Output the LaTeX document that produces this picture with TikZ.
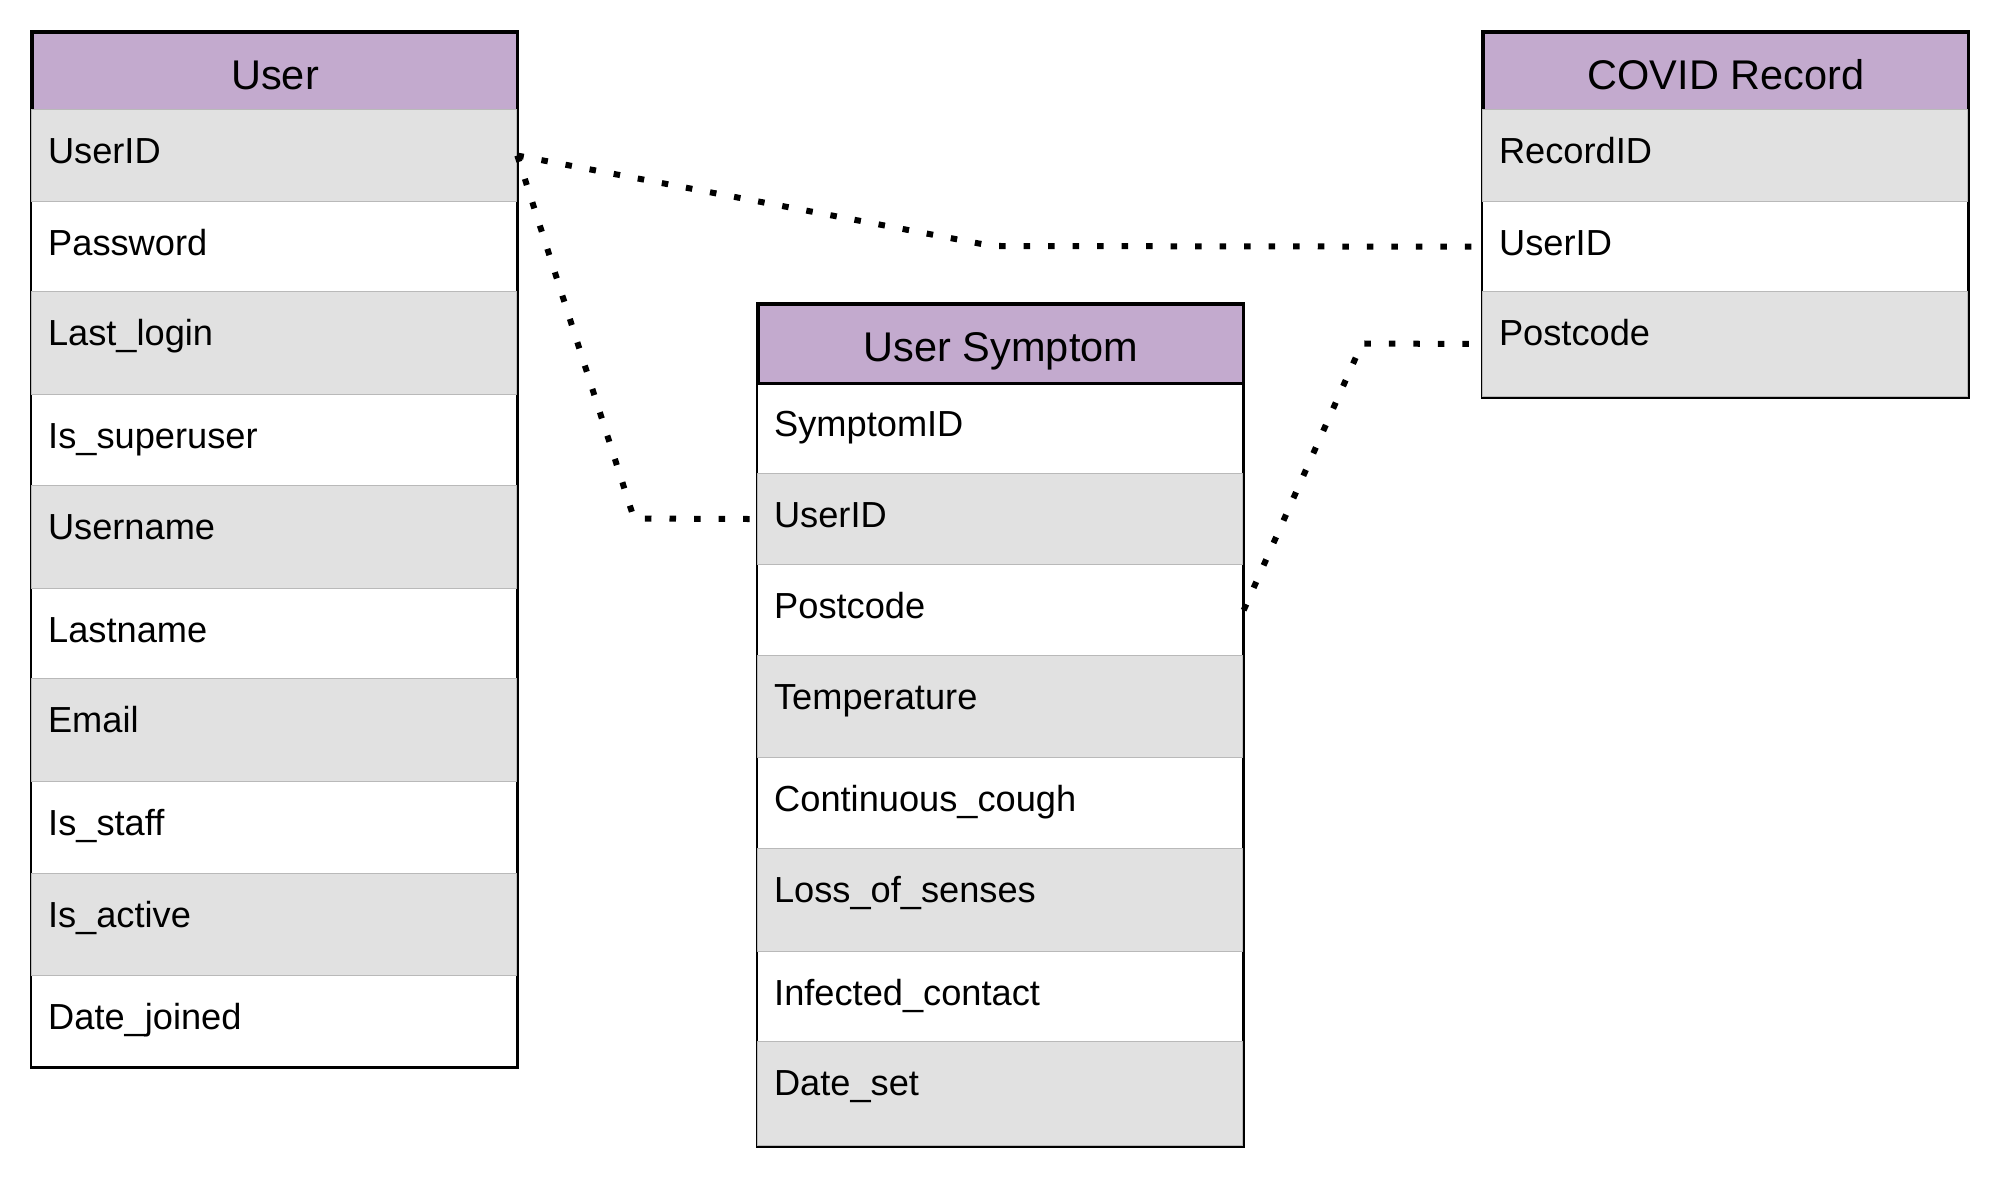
\documentclass[tikz,border=0pt]{standalone}
\usepackage{fontspec}
\setmainfont{Liberation Sans}
\usetikzlibrary{backgrounds}
\definecolor{headpurple}{RGB}{195,170,206}
\definecolor{rowgray}{RGB}{225,225,225}
\definecolor{sepgray}{RGB}{185,185,185}
\begin{document}
\begin{tikzpicture}[x=0.01cm,y=-0.01cm,
	head/.style={draw=black,line width=0.8pt,fill=headpurple,anchor=north west,inner sep=0pt,
		minimum width=4.85cm,text height=0.57cm,text depth=0.21cm,font=\fontsize{11.8pt}{14pt}\selectfont},
	field/.style={anchor=north west,inner xsep=0.165cm,inner ysep=0pt,text width=4.52cm,align=left,
		text height=0.535cm,font=\fontsize{10.3pt}{12pt}\selectfont},
	shade/.style={field,fill=rowgray,draw=sepgray,line width=0.3pt},
	frame/.style={draw=black,line width=0.8pt},
	link/.style={line width=0.06cm,dash pattern=on 0.065cm off 0.18cm}]
	\useasboundingbox (0,0) rectangle (1999,1186);
	%% User
	\node[head] (u0) at (31,31) {User};
	\node[shade,text depth=0.385cm] (u1) at (31,109) {UserID};
	\node[field,text depth=0.365cm] (u2) at (31,201) {Password};
	\node[shade,text depth=0.495cm] (u3) at (31,291) {Last\_login};
	\node[field,text depth=0.375cm] (u4) at (31,394) {Is\_superuser};
	\node[shade,text depth=0.495cm] (u5) at (31,485) {Username};
	\node[field,text depth=0.365cm] (u6) at (31,588) {Lastname};
	\node[shade,text depth=0.495cm] (u7) at (31,678) {Email};
	\node[field,text depth=0.385cm] (u8) at (31,781) {Is\_staff};
	\node[shade,text depth=0.485cm] (u9) at (31,873) {Is\_active};
	\node[field,text depth=0.375cm] (u10) at (31,975) {Date\_joined};
	%% User Symptom
	\node[head,text depth=0.22cm] (s0) at (757,303) {User Symptom};
	\node[field,text depth=0.375cm] (s1) at (757,382) {SymptomID};
	\node[shade,text depth=0.375cm] (s2) at (757,473) {UserID};
	\node[field,text depth=0.375cm] (s3) at (757,564) {Postcode};
	\node[shade,text depth=0.485cm] (s4) at (757,655) {Temperature};
	\node[field,text depth=0.375cm] (s5) at (757,757) {Continuous\_cough};
	\node[shade,text depth=0.495cm] (s6) at (757,848) {Loss\_of\_senses};
	\node[field,text depth=0.365cm] (s7) at (757,951) {Infected\_contact};
	\node[shade,text depth=0.505cm] (s8) at (757,1041) {Date\_set};
	%% COVID Record
	\node[head] (c0) at (1482,31) {COVID Record};
	\node[shade,text depth=0.385cm] (c1) at (1482,109) {RecordID};
	\node[field,text depth=0.365cm] (c2) at (1482,201) {UserID};
	\node[shade,text depth=0.515cm] (c3) at (1482,291) {Postcode};
	%% khung bảng
	\begin{scope}[on background layer]
		\draw[frame] (u0.north west) rectangle (u10.south east);
		\draw[frame] (s0.north west) rectangle (s8.south east);
		\draw[frame] (c0.north west) rectangle (c3.south east);
	\end{scope}
	%% Liên kết
	\coordinate (b1) at (992,246);
	\coordinate (b2) at (634,518.5);
	\coordinate (b3) at (1362,343.5);
	\draw[link] (u1.east) -- (b1) -- (c2.west);
	\draw[link] (u1.east) -- (b2) -- (s2.west);
	\draw[link] (s3.east) -- (b3) -- (c3.west);
\end{tikzpicture}
\end{document}
